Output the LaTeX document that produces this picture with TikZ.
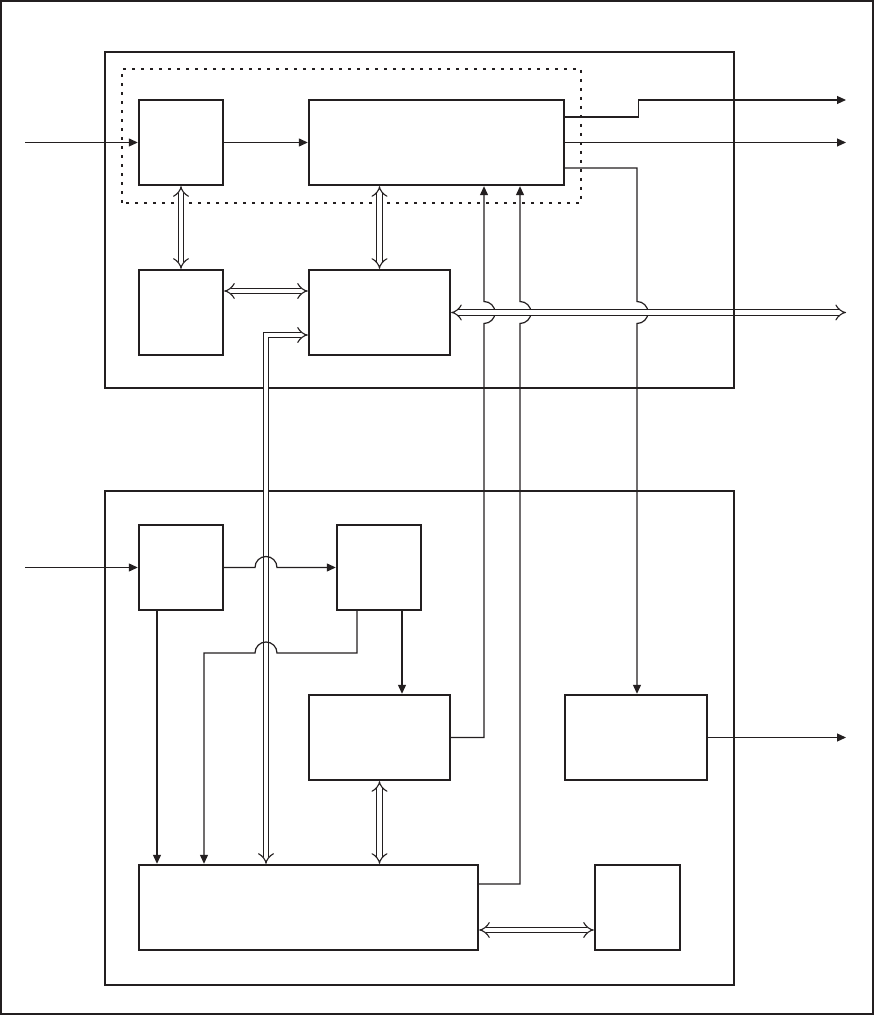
\documentclass[tikz,border=0pt]{standalone}
\usetikzlibrary{arrows.meta,positioning,calc}
\definecolor{ink}{HTML}{231F20}
\tikzset{>={Triangle[length=9pt,width=8pt]},
  blk/.style={draw=ink,line width=2.4pt,fill=white,minimum width=84pt,minimum height=85pt,inner sep=0pt},
  frm/.style={draw=ink,line width=1.5pt},
  grp/.style={draw=ink,line width=2.8pt,dash pattern=on 2.8pt off 6.2pt},
  sig/.style={draw=ink,line width=1.2pt,->},
  bus/.style={draw=ink,line width=1.1pt,double=white,double distance=4.5pt,{Implies[scale=1.3]}-{Implies[scale=1.3]}}}

\begin{document}
\begin{tikzpicture}[x=1pt,y=1pt]
\useasboundingbox (0,0) rectangle (874,1015);
\draw[ink,line width=1.8pt] (1,1) rectangle (873,1014);
% frames
\draw[frm] (105,627) rectangle (734,963);
\draw[frm] (105,30) rectangle (734,524);
\draw[grp] (122,812) rectangle (581,946);
% free ends and hops
\coordinate (inT) at (25,872.5);\coordinate (inB) at (25,447.5);
\coordinate (outA) at (846,915);\coordinate (outB) at (846,872.5);
\coordinate (outC) at (846,702.5);\coordinate (outD) at (846,277.5);
\coordinate (hopA) at (484,702.5);\coordinate (hopB) at (520,702.5);
\coordinate (hopC) at (637,702.5);\coordinate (hopD) at (266,447.5);
\coordinate (hopE) at (266,362);\coordinate (kink) at (204,362);
% blocks
\node[blk] (topL) at (181,872.5) {};
\node[blk,minimum width=255pt] (topW) at (436.5,872.5) {};
\node[blk] (midL) at (181,702.5) {};
\node[blk,minimum width=141pt] (midM) at (379.5,702.5) {};
\node[blk] (lowA) at (181,447.5) {};
\node[blk] (lowB) at (379,447.5) {};
\node[blk,minimum width=141pt] (lowC) at (379.5,277.5) {};
\node[blk,minimum width=142pt] (lowD) at (636,277.5) {};
\node[blk,minimum width=339pt] (lowW) at (308.5,107.5) {};
\node[blk,minimum width=85pt] (lowS) at (637.5,107.5) {};
% signals, top
\draw[sig] (inT) -- (topL.west);
\draw[sig] (topL.east) -- (topW.west);
\draw[sig] ([yshift=25.5pt]topW.east) -- ++(73,0) |- (outA);
\draw[sig] (topW.east) -- (outB);
\draw[sig] ([yshift=-25.5pt]topW.east) -| ([yshift=11pt]hopC) arc[start angle=90,end angle=-90,radius=11pt] -- (hopC |- lowD.north);
\draw[sig] (lowC.east) -| ([yshift=-11pt]hopA) arc[start angle=-90,end angle=90,radius=11pt] -- (hopA |- topW.south);
\draw[sig] ([yshift=23.5pt]lowW.east) -| ([yshift=-11pt]hopB) arc[start angle=-90,end angle=90,radius=11pt] -- (hopB |- topW.south);
% buses
\draw[bus] (midM.east) -- (outC);
\draw[bus] (topL.south) -- (midL.north);
\draw[bus] (midM.north |- topW.south) -- (midM.north);
\draw[bus] ([yshift=21.5pt]midL.east) -- ([yshift=21.5pt]midM.west);
\draw[bus] (hopD |- lowW.north) |- ([yshift=-22.5pt]midM.west);
% signals, bottom
\draw[sig] (inB) -- (lowA.west);
\draw[sig] (lowA.east) -- ([xshift=-11pt]hopD) arc[start angle=180,end angle=0,radius=11pt] -- (lowB.west);
\draw[sig] ([xshift=-24pt]lowA.south) -- ([xshift=-24pt]lowA.south |- lowW.north);
\draw[sig] ([xshift=-22pt]lowB.south) |- ([xshift=11pt]hopE) arc[start angle=0,end angle=180,radius=11pt] -- (kink) -- (kink |- lowW.north);
\draw[sig] ([xshift=23pt]lowB.south) -- ([xshift=23pt]lowB.south |- lowC.north);
\draw[bus] (lowC.south) -- (lowC.south |- lowW.north);
\draw[sig] (lowD.east) -- (outD);
\draw[bus] ([yshift=-22.5pt]lowW.east) -- ([yshift=-22.5pt]lowS.west);
\draw[frm] (734,627) -- (734,963);
\end{tikzpicture}
\end{document}
